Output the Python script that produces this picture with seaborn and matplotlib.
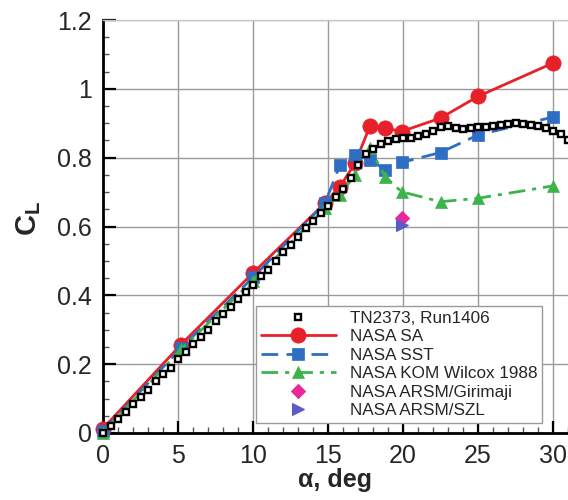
import pandas as pd
import seaborn as sns
import matplotlib.pyplot as plt
from matplotlib.ticker import MultipleLocator

# experiment, TN2373 run 1406
alpha_exp = [0.0, 0.5, 1.0, 1.5, 2.0, 2.5, 3.0, 3.5, 4.0, 4.5, 5.0, 5.5, 6.0, 6.5, 7.0, 7.5,
             8.0, 8.5, 9.0, 9.5, 10.0, 10.5, 11.0, 11.5, 12.0, 12.5, 13.0, 13.5, 14.0, 14.5,
             15.0, 15.5, 16.0, 16.5, 17.0, 17.5, 18.0, 18.5, 19.0, 19.5, 20.0, 20.5, 21.0,
             21.5, 22.0, 22.5, 23.0, 23.5, 24.0, 24.5, 25.0, 25.5, 26.0, 26.5, 27.0, 27.5,
             28.0, 28.5, 29.0, 29.5, 30.0, 30.5, 31.0]
cl_exp = [0.000, 0.020, 0.040, 0.060, 0.085, 0.105, 0.125, 0.150, 0.170, 0.190, 0.215, 0.235,
          0.260, 0.280, 0.300, 0.325, 0.345, 0.365, 0.390, 0.410, 0.430, 0.455, 0.475, 0.500,
          0.525, 0.545, 0.570, 0.595, 0.615, 0.640, 0.660, 0.685, 0.710, 0.740, 0.780, 0.810,
          0.825, 0.840, 0.848, 0.854, 0.857, 0.858, 0.862, 0.868, 0.878, 0.888, 0.892, 0.886,
          0.882, 0.886, 0.889, 0.890, 0.892, 0.895, 0.898, 0.900, 0.899, 0.896, 0.892, 0.886,
          0.877, 0.868, 0.852]

alpha_cfd = [0.0, 5.2, 10.0, 14.8, 15.8, 16.8, 17.8, 18.8, 19.9, 22.5, 25.0, 30.0]
cl_sa = [0.013, 0.257, 0.465, 0.668, 0.716, 0.784, 0.892, 0.886, 0.876, 0.915, 0.978, 1.075]
cl_sst = [0.005, 0.247, 0.452, 0.668, 0.779, 0.808, 0.794, 0.765, 0.786, 0.815, 0.866, 0.918]
cl_kom = [0.000, 0.243, 0.443, 0.653, 0.692, 0.750, 0.828, 0.745, 0.701, 0.672, 0.682, 0.718]

alpha_arsm = [19.9]
cl_girimaji = [0.624]
cl_szl = [0.605]

sns.set_style("ticks")
plt.rcParams['font.family'] = ['Liberation Sans', 'DejaVu Sans']
plt.rcParams['mathtext.fontset'] = 'custom'
plt.rcParams['mathtext.bf'] = 'Liberation Sans:bold'
plt.rcParams['mathtext.rm'] = 'Liberation Sans'

fig = plt.figure(figsize=(5.68, 5.0), dpi=100)
ax = fig.add_axes([103 / 568, 67 / 500, 465 / 568, 413 / 500])

sns.lineplot(x=alpha_exp, y=cl_exp, ax=ax, sort=False, linestyle='none', marker='s',
             markersize=5, markerfacecolor='white', markeredgecolor='black',
             markeredgewidth=1.7, color='black', label='TN2373, Run1406', clip_on=False, zorder=5)
sns.lineplot(x=alpha_cfd, y=cl_sa, ax=ax, sort=False, color='#e8202a', linewidth=2,
             marker='o', markersize=11, markeredgecolor='#e8202a', markeredgewidth=0.5,
             label='NASA SA', clip_on=False, zorder=4)
sns.lineplot(x=alpha_cfd, y=cl_sst, ax=ax, sort=False, color='#2f6fc3', linewidth=2,
             dashes=(6, 3), marker='s', markersize=8, markeredgecolor='#2f6fc3',
             markeredgewidth=0.5, label='NASA SST', clip_on=False, zorder=4)
sns.lineplot(x=alpha_cfd, y=cl_kom, ax=ax, sort=False, color='#3cb44b', linewidth=2,
             dashes=(6, 2.5, 1.5, 2.5), marker='^', markersize=8.5, markeredgecolor='#3cb44b',
             markeredgewidth=0.5, label='NASA KOM Wilcox 1988', clip_on=False, zorder=4)
sns.lineplot(x=alpha_arsm, y=cl_girimaji, ax=ax, linestyle='none', marker='D', markersize=7.5,
             color='#e8289b', markeredgecolor='#e8289b', label='NASA ARSM/Girimaji',
             clip_on=False, zorder=4)
sns.lineplot(x=alpha_arsm, y=cl_szl, ax=ax, linestyle='none', marker='>', markersize=8.5,
             color='#5a5ac8', markeredgecolor='#5a5ac8', label='NASA ARSM/SZL',
             clip_on=False, zorder=4)

ax.set_xlim(0, 31)
ax.set_ylim(0, 1.2)
ax.xaxis.set_major_locator(MultipleLocator(5))
ax.xaxis.set_minor_locator(MultipleLocator(1))
ax.yaxis.set_major_locator(MultipleLocator(0.2))
ax.yaxis.set_minor_locator(MultipleLocator(0.05))
ax.set_yticks([0, 0.2, 0.4, 0.6, 0.8, 1.0, 1.2])
ax.set_yticklabels(['0', '0.2', '0.4', '0.6', '0.8', '1', '1.2'])
ax.set_xticks([0, 5, 10, 15, 20, 25, 30])
ax.set_xticklabels(['0', '5', '10', '15', '20', '25', '30'])
ax.grid(True, which='major', color='#9a9a9a', linewidth=1)
ax.set_axisbelow(True)

ax.tick_params(which='major', direction='in', length=9, width=1.6, labelsize=18, pad=8,
               color='black')
ax.tick_params(which='minor', direction='in', length=4.5, width=1.0, color='#555555')
ax.tick_params(top=False, right=False, which='both')
for s in ['left', 'bottom']:
    ax.spines[s].set_linewidth(2)
    ax.spines[s].set_color('black')
ax.spines['top'].set_color('#c8c8c8')
ax.spines['top'].set_linewidth(1)
ax.spines['right'].set_visible(False)

ax.set_xlabel('α, deg', fontsize=18, fontweight='bold', labelpad=0)
ax.set_ylabel(r'$\mathbf{C}_{\mathbf{L}}$', fontsize=21)
ax.yaxis.set_label_coords(-0.13, 0.52)

leg = ax.legend(loc='lower right', bbox_to_anchor=(0.945, 0.024), fontsize=12.3,
                frameon=True, fancybox=False, edgecolor='#9a9a9a', framealpha=1,
                handlelength=4.4, handletextpad=0.8, labelspacing=0.2, borderpad=0.3,
                borderaxespad=0)
leg.get_frame().set_linewidth(1)

fig.savefig('out.png', dpi=100)
